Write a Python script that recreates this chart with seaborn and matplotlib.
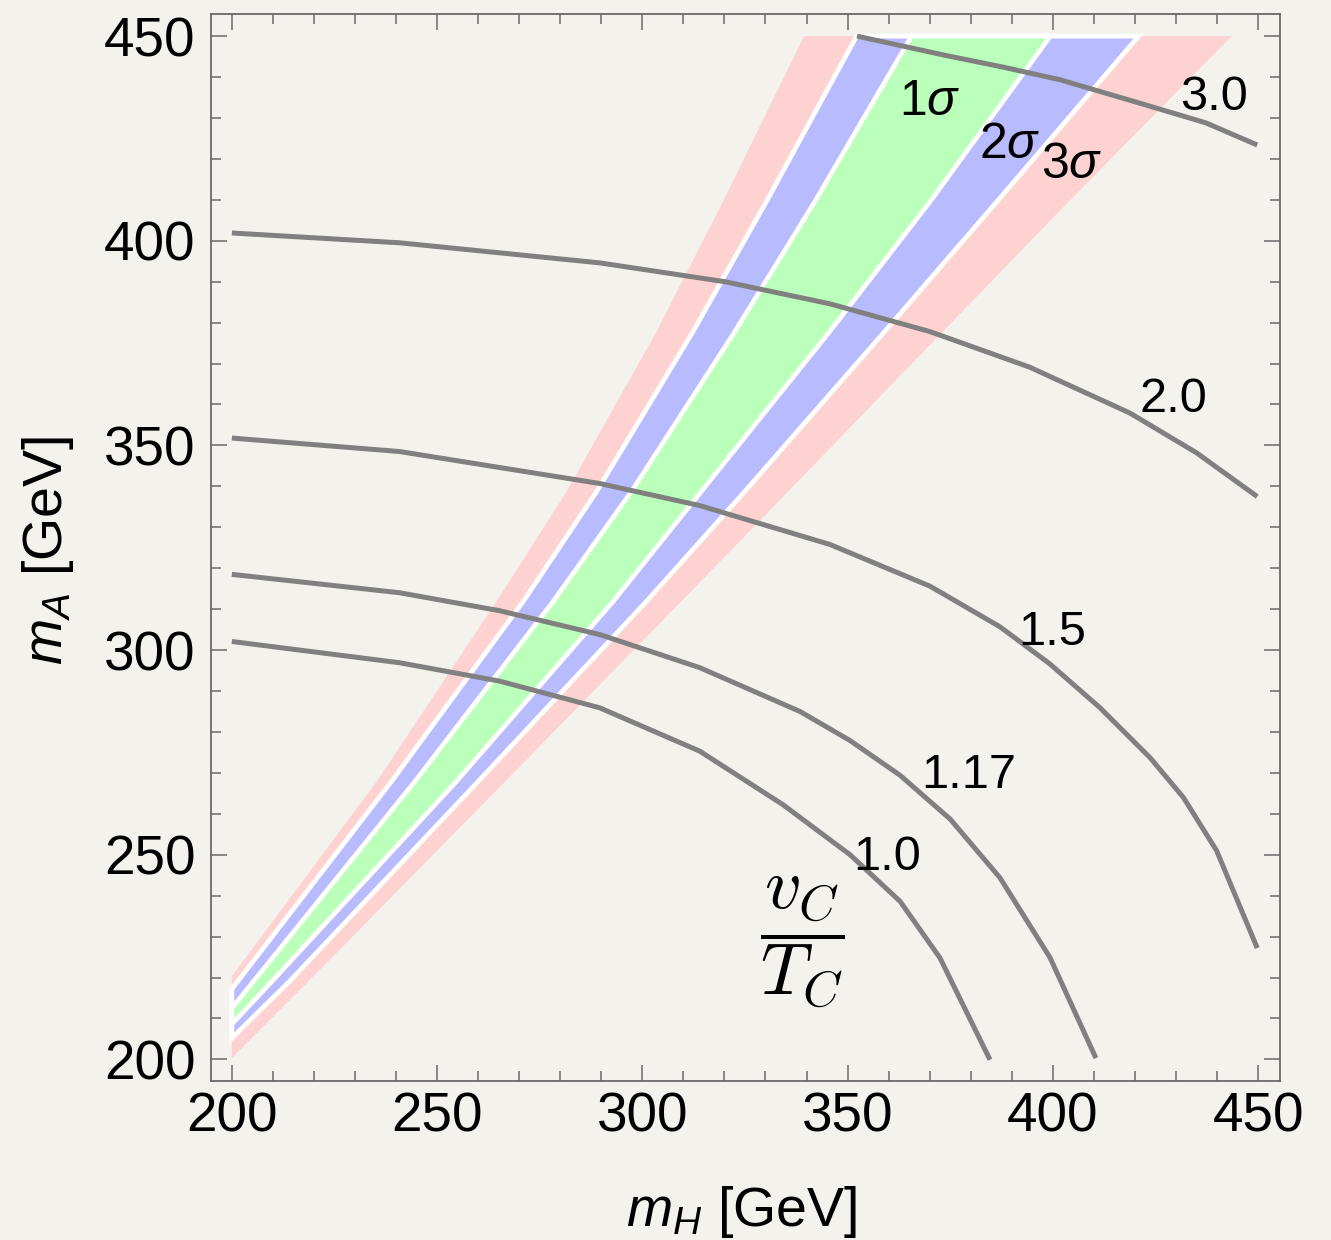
import numpy as np
import pandas as pd
import matplotlib
matplotlib.use("Agg")
import matplotlib.pyplot as plt
from matplotlib.ticker import MultipleLocator
import seaborn as sns

# ---------------- data ----------------
# 3 sigma band (pink): left/upper and right/lower boundaries
s3_left_mH = [200.0, 235.3, 264.5, 281.6, 303.5, 319.7, 339.4]
s3_left_mA = [220.3, 267.9, 311.9, 338.8, 377.9, 409.7, 450.0]
s3_right_mH = [200.0, 218.7, 266.6, 309.5, 335.6, 373.3, 404.0, 443.6]
s3_right_mA = [200.3, 219.1, 267.9, 311.9, 338.8, 377.9, 409.7, 450.0]
# 2 sigma band (blue)
s2_left_mH = [200.0, 238.9, 271.0, 288.9, 312.4, 330.3, 352.2]
s2_left_mA = [217.2, 267.9, 311.9, 338.8, 377.9, 409.7, 450.0]
s2_right_mH = [200.0, 214.1, 260.0, 301.0, 325.0, 359.1, 386.5, 420.9]
s2_right_mA = [205.2, 219.1, 267.9, 311.9, 338.8, 377.9, 409.7, 450.0]
# 1 sigma band (green)
s1_left_mH = [200.0, 244.6, 278.3, 297.4, 322.6, 342.1, 365.6]
s1_left_mA = [212.5, 267.9, 311.9, 338.8, 377.9, 409.7, 450.0]
s1_right_mH = [200.0, 209.8, 254.7, 292.9, 314.4, 345.7, 370.2, 399.4]
s1_right_mA = [208.6, 219.1, 267.9, 311.9, 338.8, 377.9, 409.7, 450.0]

# contours of v_C / T_C
c10_mH = [200.0, 240.9, 265.3, 289.6, 314.0, 334.3, 350.6, 362.8, 372.5, 384.7]
c10_mA = [302.1, 296.9, 292.4, 285.9, 275.3, 262.2, 250.0, 238.6, 224.8, 199.9]
c117_mH = [200.0, 240.9, 265.3, 289.6, 314.0, 338.4, 350.6, 362.8, 375.0, 387.1, 399.3, 410.5]
c117_mA = [318.5, 314.0, 309.6, 303.8, 295.7, 285.0, 277.9, 269.4, 258.7, 244.4, 224.9, 200.3]
c15_mH = [200.0, 240.9, 289.6, 314.0, 345.7, 370.1, 387.1, 399.3, 411.5, 423.7, 431.8, 439.9, 449.8]
c15_mA = [351.8, 348.5, 340.7, 335.3, 325.8, 315.6, 305.7, 296.6, 285.9, 273.7, 264.0, 251.0, 227.2]
c20_mH = [200.0, 240.9, 289.6, 320.1, 345.7, 370.1, 394.4, 418.8, 435.0, 449.8]
c20_mA = [401.9, 399.5, 394.6, 390.0, 384.6, 377.8, 369.1, 357.9, 348.2, 337.5]
c30_mH = [352.3, 373.8, 388.0, 401.9, 420.9, 437.3, 449.8]
c30_mA = [450.0, 445.3, 442.4, 439.3, 433.7, 428.8, 423.4]

contour_levels = ["1.0", "1.17", "1.5", "2.0", "3.0"]
contour_mH = [c10_mH, c117_mH, c15_mH, c20_mH, c30_mH]
contour_mA = [c10_mA, c117_mA, c15_mA, c20_mA, c30_mA]

# label texts
contour_label_text = ["1.0", "1.17", "1.5", "2.0", "3.0"]
sigma_label_text = [r"1$\sigma$", r"2$\sigma$", r"3$\sigma$"]

# ---------------- style ----------------
sns.set_style("ticks")
BG = "#F4F2ED"
plt.rcParams["font.family"] = ["Liberation Sans", "DejaVu Sans"]
plt.rcParams["mathtext.fontset"] = "custom"
plt.rcParams["mathtext.rm"] = "Liberation Sans"
plt.rcParams["mathtext.it"] = "Liberation Sans:italic"
plt.rcParams["mathtext.bf"] = "Liberation Sans:bold"

PINK = "#FFD2D2"
BLUE = "#B9BBFF"
GREEN = "#BAFFBA"
LINE = "#808080"
FRAME = "#6A6A6A"

fig = plt.figure(figsize=(13.31, 12.40), dpi=100, facecolor=BG)
ax = fig.add_axes([0.1583, 0.1285, 0.8034, 0.8602])
ax.set_facecolor(BG)

# ---------------- bands ----------------
def band(lx, ly, rx, ry, color, edge, lw):
    xs = list(rx) + list(lx)[::-1]
    ys = list(ry) + list(ly)[::-1]
    ax.fill(xs, ys, facecolor=color, edgecolor=edge, linewidth=lw, zorder=1,
            joinstyle="miter")

band(s3_left_mH, s3_left_mA, s3_right_mH, s3_right_mA, PINK, "none", 0)
band(s2_left_mH, s2_left_mA, s2_right_mH, s2_right_mA, BLUE, "white", 3.4)
band(s1_left_mH, s1_left_mA, s1_right_mH, s1_right_mA, GREEN, "white", 3.4)

# ---------------- contour lines ----------------
rows = []
for lev, xs, ys in zip(contour_levels, contour_mH, contour_mA):
    for i, (x, y) in enumerate(zip(xs, ys)):
        rows.append({"level": lev, "order": i, "mH": x, "mA": y})
df = pd.DataFrame(rows)
sns.lineplot(data=df, x="mH", y="mA", units="level", estimator=None, sort=False,
             color=LINE, linewidth=3.6, ax=ax, zorder=3, legend=False)
for ln in ax.lines:
    ln.set_solid_joinstyle("round")
    ln.set_solid_capstyle("butt")

# ---------------- text labels ----------------
contour_label_pos = [(359.6, 246.3), (379.6, 266.3), (399.8, 301.2), (429.3, 358.2), (439.3, 431.9)]
for t, (x, y) in zip(contour_label_text, contour_label_pos):
    ax.text(x, y, t, fontsize=35, ha="center", va="baseline", color="black", zorder=4)

sigma_label_pos = [(370.0, 430.7), (389.6, 420.3), (404.6, 415.4)]
for t, (x, y) in zip(sigma_label_text, sigma_label_pos):
    ax.text(x, y, t, fontsize=36, ha="center", va="baseline", color="black", zorder=4)

ax.text(339.05, 228.6, r"$\dfrac{v_C}{T_C}$", fontsize=52, ha="center", va="center",
        math_fontfamily="cm", color="black", zorder=4)

# ---------------- axes ----------------
ax.set_xlim(194.85, 455.35)
ax.set_ylim(194.8, 455.4)
ax.xaxis.set_major_locator(MultipleLocator(50))
ax.xaxis.set_minor_locator(MultipleLocator(10))
ax.yaxis.set_major_locator(MultipleLocator(50))
ax.yaxis.set_minor_locator(MultipleLocator(10))
ax.tick_params(which="both", direction="in", top=True, right=True, color=FRAME,
               width=1.1, labelsize=39.5, labelcolor="black")
ax.tick_params(which="major", length=11.5)
ax.tick_params(which="minor", length=7.2)
ax.tick_params(axis="x", which="major", pad=8)
ax.tick_params(axis="y", which="major", pad=11)
for s in ax.spines.values():
    s.set_color(FRAME)
    s.set_linewidth(1.3)
    s.set_visible(True)

ax.set_xlabel(r"$m_H$ [GeV]", fontsize=40, va="baseline", color="black")
ax.xaxis.set_label_coords(0.4969, -0.1365)
ax.set_ylabel(r"$m_A$ [GeV]", fontsize=40, va="baseline", color="black")
ax.yaxis.set_label_coords(-0.139, 0.4966)

fig.savefig("out.png", dpi=100, facecolor=BG)
